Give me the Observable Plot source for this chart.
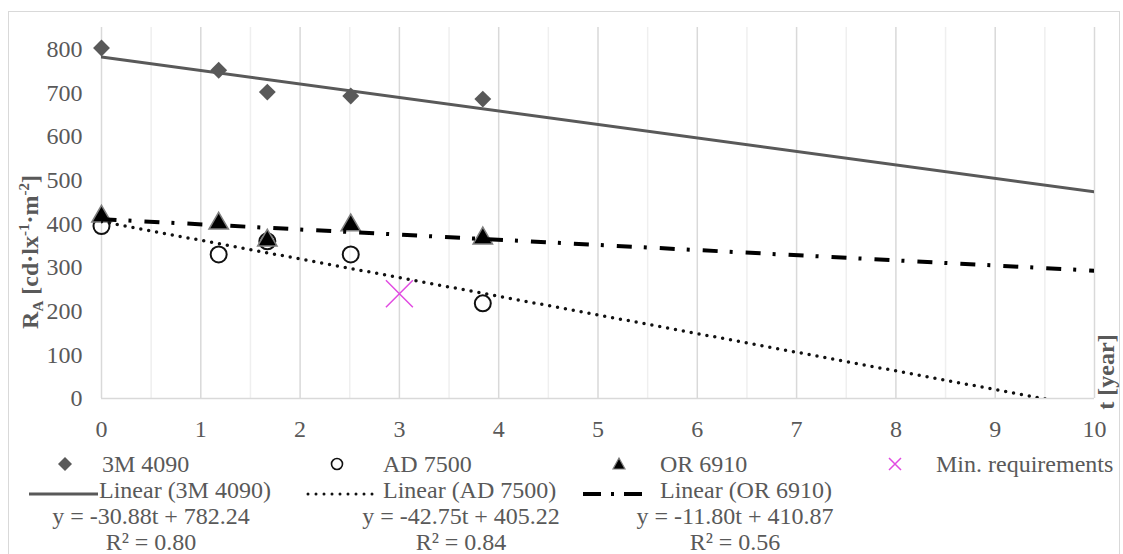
<!DOCTYPE html>
<html><head><meta charset="utf-8">
<script src="https://cdn.jsdelivr.net/npm/d3@7"></script>
<script src="https://cdn.jsdelivr.net/npm/@observablehq/plot@0.6"></script>
<style>
body{margin:0;background:#fff;}
#wrap{position:relative;width:1123px;height:554px;overflow:hidden;font-family:"Liberation Serif","Times New Roman",serif;color:#595959;background:#fff;}
#frame{position:absolute;left:8px;top:11px;width:1112px;height:620px;border:1.5px solid #d9d9d9;box-sizing:border-box;}
#chart{position:absolute;left:0;top:0;}
#chart svg text{font-family:"Liberation Serif","Times New Roman",serif;}
.lg{position:absolute;font-size:24px;line-height:26px;white-space:nowrap;color:#595959;}
.sw{position:absolute;}
</style></head><body>
<div id="wrap"><div id="frame"></div><div id="chart"></div><div id="legend"></div></div>
<script>
// ---- data ----
const tYears = [0, 1.18, 1.67, 2.51, 3.84];
const r3M4090 = [803, 752, 702, 693, 686];
const rAD7500 = [395, 330, 360, 330, 218];
const rOR6910 = [417, 401, 362, 397, 367];
const tMin = [3];
const rMin = [240];
const seriesNames = ["3M 4090", "AD 7500", "OR 6910"];
const trendSlopes = [-30.88, -42.75, -11.80];
const trendIntercepts = [782.24, 405.22, 410.87];
const trendR2 = ["0.80", "0.84", "0.56"];
const trendRange = [0, 10];
const xTicks = [0,1,2,3,4,5,6,7,8,9,10];
const xMinor = [0.5,1.5,2.5,3.5,4.5,5.5,6.5,7.5,8.5,9.5];
const yTicks = [0,100,200,300,400,500,600,700,800];

const pts = (arr) => tYears.map((t,i)=>({t, r: arr[i]}));
const p3M = pts(r3M4090), pAD = pts(rAD7500), pOR = pts(rOR6910);
const pMin = tMin.map((t,i)=>({t, r: rMin[i]}));
const trend = (k) => trendRange.map(t => ({t, r: trendIntercepts[k] + trendSlopes[k]*t}));

const FONT = "Liberation Serif, Times New Roman, serif";
const chart = Plot.plot({
  width: 1123, height: 440,
  marginLeft: 101, marginRight: 29, marginTop: 27, marginBottom: 42,
  x: {domain: [0, 10]},
  y: {domain: [0, 850]},
  style: {fontFamily: FONT, fontSize: "24px", color: "#595959", background: "transparent", overflow: "visible"},
  marks: [
    Plot.ruleX(xMinor, {y1: 0, y2: 850, stroke: "#efefef", strokeWidth: 1.5}),
    Plot.ruleX(xTicks, {y1: 0, y2: 850, stroke: "#d9d9d9", strokeWidth: 1.5}),
    Plot.ruleY([0], {stroke: "#d9d9d9", strokeWidth: 1.5}),
    Plot.axisX(xTicks, {tickSize: 0, tickPadding: 21, fontSize: 24, fontFamily: FONT, fill: "#595959", label: null}),
    Plot.axisY(yTicks, {tickSize: 0, tickPadding: 19, fontSize: 24, fontFamily: FONT, fill: "#595959", label: null}),
    Plot.dot(p3M, {x: "t", y: "r", symbol: "diamond2", r: 7.6, fill: "#595959", stroke: "none"}),
    Plot.dot(pAD, {x: "t", y: "r", symbol: "circle", r: 8, fill: "none", stroke: "#111", strokeWidth: 2}),
    Plot.dot(pOR, {x: "t", y: "r", symbol: "triangle", r: 7.2, fill: "#000", stroke: "#7f7f7f", strokeWidth: 1.5}),
    Plot.dot(pMin, {x: "t", y: "r", symbol: "times", r: 12.3, stroke: "#e14be1", strokeWidth: 1.5}),
    Plot.line(trend(0), {x: "t", y: "r", stroke: "#595959", strokeWidth: 3, clip: true}),
    Plot.line(trend(1), {x: "t", y: "r", stroke: "#111", strokeWidth: 3.5, strokeDasharray: "0 8", strokeLinecap: "round", clip: true}),
    Plot.line(trend(2), {x: "t", y: "r", stroke: "#000", strokeWidth: 4, strokeDasharray: "15 12 3 13", strokeLinecap: "butt", clip: true})
  ]
});
document.getElementById("chart").appendChild(chart);

// axis titles
const svg = d3.select(chart);
const yt = svg.append("text")
  .attr("transform", "translate(30,252) rotate(-90)")
  .attr("text-anchor", "middle").attr("dy", "0.35em")
  .attr("font-weight", "bold").attr("font-size", 24).attr("fill", "#595959").attr("font-family", FONT);
yt.append("tspan").text("R");
yt.append("tspan").attr("font-size", 15).attr("dy", 5).text("A");
yt.append("tspan").attr("dy", -5).text(" [cd·lx");
yt.append("tspan").attr("font-size", 15).attr("dy", -9).text("-1");
yt.append("tspan").attr("dy", 9).text("·m");
yt.append("tspan").attr("font-size", 15).attr("dy", -9).text("-2");
yt.append("tspan").attr("dy", 9).text("]");
svg.append("text")
  .attr("transform", "translate(1106,372) rotate(-90)")
  .attr("text-anchor", "middle").attr("dy", "0.35em")
  .attr("font-weight", "bold").attr("font-size", 24).attr("fill", "#595959").attr("font-family", FONT)
  .text("t [year]");

// legend
const L = document.getElementById("legend");
function addText(txt, left, cy, center) {
  const d = document.createElement("div");
  d.className = "lg"; d.textContent = txt;
  d.style.top = (cy - 13) + "px";
  d.style.left = left + "px";
  if (center) d.style.transform = "translateX(-50%)";
  L.appendChild(d);
}
function addSwatch(svgInner, left, cy, w, h) {
  const d = document.createElement("div");
  d.className = "sw";
  d.style.left = left + "px"; d.style.top = (cy - h/2) + "px";
  d.innerHTML = `<svg width="${w}" height="${h}" viewBox="0 0 ${w} ${h}">${svgInner}</svg>`;
  L.appendChild(d);
}
const row1 = 464, row2 = 490, row3 = 516, row4 = 542;
const symX = [65, 337, 619], txtX1 = [102, 383, 660];
const lineX = [[29, 98], [306, 379], [583, 644]], txtX2 = [99, 383, 660];
const eqX = [151, 461, 735];
addSwatch(`<path d="M8 1 L15 8 L8 15 L1 8 Z" fill="#595959"/>`, symX[0]-8, row1, 16, 16);
addSwatch(`<circle cx="8" cy="8" r="5.5" fill="none" stroke="#111" stroke-width="1.6"/>`, symX[1]-8, row1, 16, 16);
addSwatch(`<path d="M8 2 L14 13 L2 13 Z" fill="#000" stroke="#7f7f7f" stroke-width="1.2"/>`, symX[2]-8, row1, 16, 16);
addSwatch(`<path d="M2 2 L14 14 M14 2 L2 14" stroke="#e14be1" stroke-width="1.5"/>`, 895-8, row1, 16, 16);
seriesNames.forEach((n,i)=>addText(n, txtX1[i], row1));
addText("Min. requirements", 936, row1);
addSwatch(`<line x1="0" y1="5" x2="69" y2="5" stroke="#595959" stroke-width="3"/>`, lineX[0][0], row2, 69, 10);
addSwatch(`<line x1="2" y1="5" x2="72" y2="5" stroke="#111" stroke-width="3" stroke-dasharray="0 8" stroke-linecap="round"/>`, lineX[1][0], row2, 74, 10);
addSwatch(`<line x1="0" y1="5" x2="61" y2="5" stroke="#000" stroke-width="4" stroke-dasharray="18 10 3 10"/>`, lineX[2][0], row2, 61, 10);
seriesNames.forEach((n,i)=>addText(`Linear (${n})`, txtX2[i], row2));
seriesNames.forEach((n,i)=>{
  const m = trendSlopes[i].toFixed(2), b = trendIntercepts[i].toFixed(2);
  addText(`y = ${m}t + ${b}`, eqX[i], row3, true);
  addText(`R² = ${trendR2[i]}`, eqX[i], row4, true);
});
</script>
</body></html>
